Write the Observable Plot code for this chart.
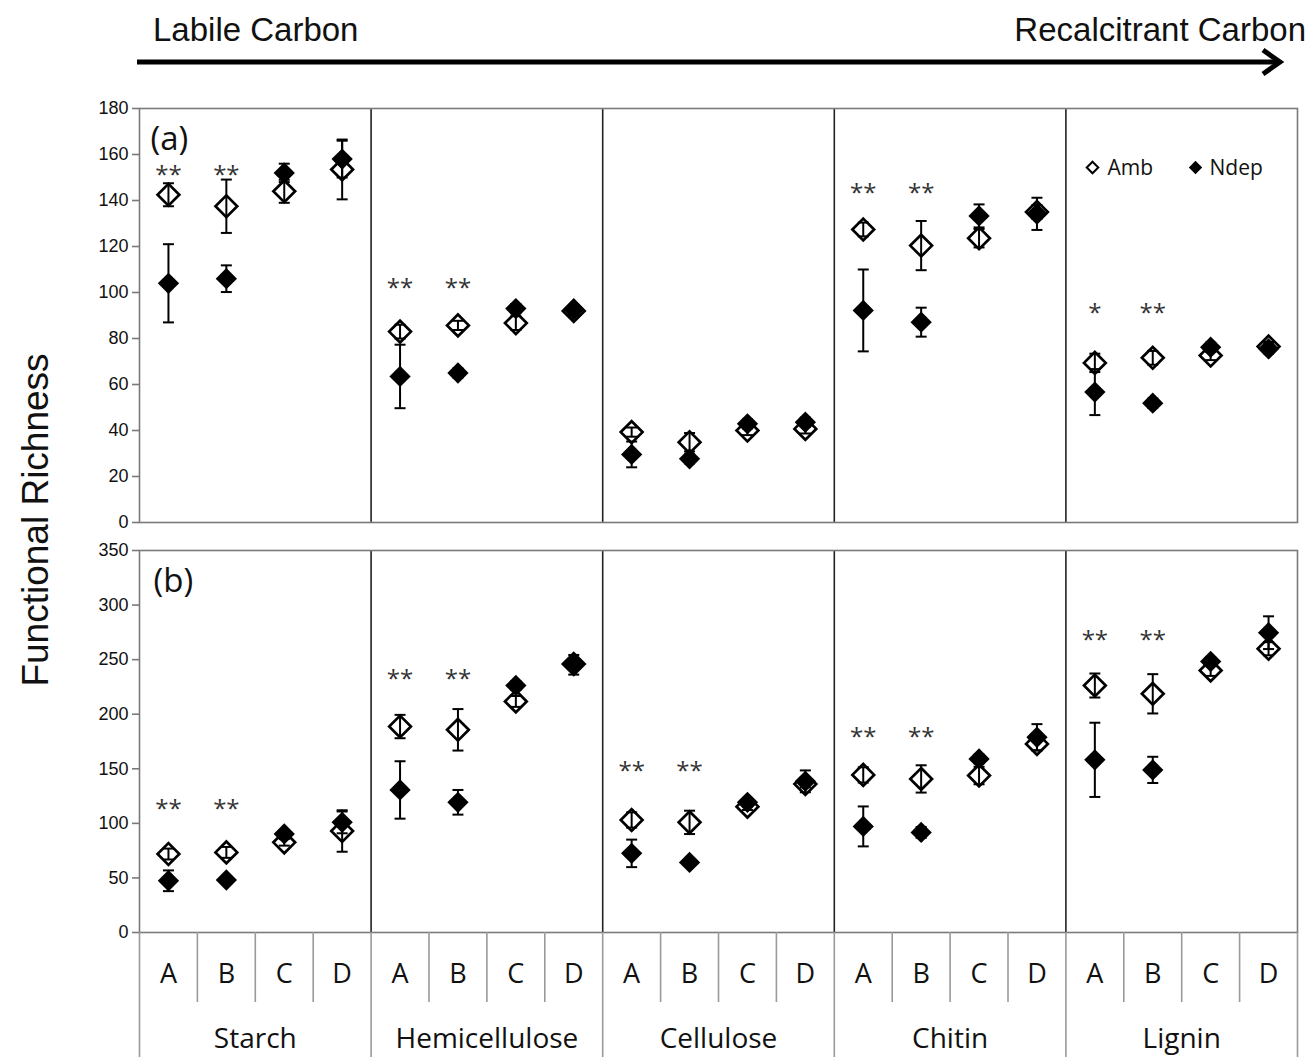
<!DOCTYPE html>
<html><head><meta charset="utf-8">
<script src="https://cdn.jsdelivr.net/npm/d3@7"></script>
<script src="https://cdn.jsdelivr.net/npm/@observablehq/plot@0.6"></script>
<style>
html,body{margin:0;padding:0;background:#fff;overflow:hidden;}
#wrap{position:relative;width:1313px;height:1057px;overflow:hidden;background:#fff;}
#wrap svg{position:absolute;left:0;}
</style></head><body>
<div id="wrap"></div>
<script>
// ---- categories ----
const groups = ["Starch", "Hemicellulose", "Cellulose", "Chitin", "Lignin"];
const levels = ["A", "B", "C", "D"];
const yTicksA = [0, 20, 40, 60, 80, 100, 120, 140, 160, 180];
const yTicksB = [0, 50, 100, 150, 200, 250, 300, 350];

// ---- panel (a) ----
const ambA      = [142.5, 137.5, 144, 153.5,  83, 85.7, 86.7, 92,   39.3, 34.9, 40, 40.7,  127.4, 120.4, 123.6, 135,  69.4, 71.6, 72.6, 76.5];
const ambErrA   = [5, 11.6, 5, 13,            3, 2, 3, 2,           2, 4, 2, 2,            3, 10.7, 4, 3,            4, 3, 2, 2];
const ndepA     = [104, 106, 152, 158,        63.5, 65, 93, 92.6,   29.6, 27.7, 42.9, 43.6, 92.2, 87.1, 133.3, 134.2, 56.7, 51.9, 76.2, 75.5];
const ndepErrA  = [17, 5.8, 4, 8,             13.8, 2, 2, 2,        5.6, 2, 2, 2,          17.8, 6.3, 5, 7,          10, 2, 2, 2];
const sigA      = ["**", "**", "", "",  "**", "**", "", "",  "", "", "", "",  "**", "**", "", "",  "*", "**", "", ""];
const sigYA     = [154, 105, 0, 146, 94];

// ---- panel (b) ----
const ambB      = [71.9, 73.4, 82.6, 93,      188.7, 185.7, 211.7, 246,  103.1, 100.9, 115.3, 136,  144.4, 140.7, 143.8, 172.8,  226.3, 218.7, 240.1, 260];
const ambErrB   = [5, 5, 3, 19,               10.7, 19, 5, 5,            7, 10.7, 3, 3,             7, 12.5, 8, 6,              11, 18, 5, 6];
const ndepB     = [47.4, 48.1, 90.3, 100.9,   130.6, 119.3, 226.3, 245.3, 72.5, 64.2, 119.3, 138.5, 97.2, 91.7, 159, 178.9,  158.2, 149, 248.3, 274.7];
const ndepErrB  = [9.5, 3, 3, 10,             26.3, 11.3, 4, 9,          12.6, 3, 4, 10,            18.3, 5, 4, 12,             34, 12, 4, 15];
const sigB      = ["**", "**", "", "",  "**", "**", "", "",  "**", "**", "", "",  "**", "**", "", "",  "**", "**", "", ""];
const sigYB     = [119.3, 238.5, 154.5, 185.7, 273.8];

function buildRows(amb, ambErr, ndep, ndepErr, sig, sigY) {
  const out = [];
  groups.forEach((g, gi) => levels.forEach((l, li) => {
    const i = gi * levels.length + li;
    out.push({i, x: i + 0.5, group: g, level: l, amb: amb[i], ambErr: ambErr[i],
      ndep: ndep[i], ndepErr: ndepErr[i], sig: sig[i], sigY: sigY[gi]});
  }));
  return out;
}
const rowsA = buildRows(ambA, ambErrA, ndepA, ndepErrA, sigA, sigYA);
const rowsB = buildRows(ambB, ambErrB, ndepB, ndepErrB, sigB, sigYB);

const nCat = groups.length * levels.length;
const groupBounds = d3.range(0, nCat + 1, levels.length);
const innerBounds = groupBounds.slice(1, -1);
const catBounds = d3.range(1, nCat).filter(v => v % levels.length !== 0);

const cap = {draw(ctx, size) { const w = Math.sqrt(size / Math.PI); ctx.moveTo(-w, 0); ctx.lineTo(w, 0); }};
const CAT_FONT = "Open Sans";

function dataMarks(rows) {
  return [
    Plot.ruleX(rows, {x: "x", y1: d => d.amb - d.ambErr, y2: d => d.amb + d.ambErr, stroke: "black", strokeWidth: 2}),
    Plot.dot(rows, {x: "x", y: d => d.amb + d.ambErr, symbol: cap, r: 5.5, stroke: "black", strokeWidth: 2, fill: "none"}),
    Plot.dot(rows, {x: "x", y: d => d.amb - d.ambErr, symbol: cap, r: 5.5, stroke: "black", strokeWidth: 2, fill: "none"}),
    Plot.ruleX(rows, {x: "x", y1: d => d.ndep - d.ndepErr, y2: d => d.ndep + d.ndepErr, stroke: "black", strokeWidth: 2}),
    Plot.dot(rows, {x: "x", y: d => d.ndep + d.ndepErr, symbol: cap, r: 5.5, stroke: "black", strokeWidth: 2, fill: "none"}),
    Plot.dot(rows, {x: "x", y: d => d.ndep - d.ndepErr, symbol: cap, r: 5.5, stroke: "black", strokeWidth: 2, fill: "none"}),
    Plot.dot(rows, {x: "x", y: "amb", symbol: "diamond2", r: 9.8, stroke: "black", strokeWidth: 2.7, fill: "none"}),
    Plot.dot(rows, {x: "x", y: "ndep", symbol: "diamond2", r: 9.6, fill: "black", stroke: "none"}),
    Plot.text(rows.filter(d => d.sig), {x: "x", y: "sigY", text: "sig", fontSize: 24, fontFamily: CAT_FONT, fill: "#333", dy: 7})
  ];
}

function baseMarks(yTicks) {
  return [
    Plot.ruleX(innerBounds, {stroke: "#222", strokeWidth: 1.6}),
    Plot.frame({stroke: "#7a7a7a", strokeWidth: 1.6}),
    Plot.axisY(yTicks, {tickSize: 7, tickPadding: 4, fontSize: 18, stroke: "#7a7a7a", strokeWidth: 1.6, fill: "#111", label: null})
  ];
}

const wrap = document.getElementById("wrap");

// Panel (a)
const plotA = Plot.plot({
  width: 1313, height: 446,
  marginTop: 18, marginBottom: 14, marginLeft: 139, marginRight: 16,
  style: {fontFamily: "Liberation Sans", fontSize: "18px", background: "transparent"},
  x: {domain: [0, nCat], axis: null},
  y: {domain: [0, 180]},
  marks: [
    ...baseMarks(yTicksA),
    ...dataMarks(rowsA),
    Plot.text(["(a)"], {frameAnchor: "top-left", text: d => d, dx: 11, dy: 18, fontSize: 33, fontFamily: CAT_FONT, textAnchor: "start", fill: "#111"}),
    Plot.dot(["Amb"], {frameAnchor: "top-right", dx: -205, dy: 59, symbol: "diamond2", r: 5.2, stroke: "black", strokeWidth: 2, fill: "none"}),
    Plot.text(["Amb"], {frameAnchor: "top-right", dx: -190, dy: 52, text: d => d, textAnchor: "start", fontSize: 21, fontFamily: CAT_FONT, fill: "#111"}),
    Plot.dot(["Ndep"], {frameAnchor: "top-right", dx: -102, dy: 59, symbol: "diamond2", r: 6, fill: "black"}),
    Plot.text(["Ndep"], {frameAnchor: "top-right", dx: -88, dy: 52, text: d => d, textAnchor: "start", fontSize: 21, fontFamily: CAT_FONT, fill: "#111"})
  ]
});
plotA.style.top = "90px";
wrap.appendChild(plotA);

// Panel (b)
const plotB = Plot.plot({
  width: 1313, height: 527,
  marginTop: 20, marginBottom: 125, marginLeft: 139, marginRight: 16,
  style: {fontFamily: "Liberation Sans", fontSize: "18px", background: "transparent"},
  x: {domain: [0, nCat], axis: null},
  y: {domain: [0, 350]},
  marks: [
    ...baseMarks(yTicksB),
    ...dataMarks(rowsB),
    Plot.text(["(b)"], {frameAnchor: "top-left", text: d => d, dx: 14, dy: 18, fontSize: 33, fontFamily: CAT_FONT, textAnchor: "start", fill: "#111"}),
    Plot.axisX(catBounds, {tickSize: 70, tickFormat: () => "", label: null, stroke: "#9a9a9a", strokeWidth: 1.6}),
    Plot.axisX(groupBounds, {tickSize: 126, tickFormat: () => "", label: null, stroke: "#9a9a9a", strokeWidth: 1.6}),
    Plot.text(rowsB, {x: "x", text: "level", frameAnchor: "bottom", dy: 50, fontSize: 27, fontFamily: CAT_FONT, fill: "#111"}),
    Plot.text(groups, {x: (d, i) => i * levels.length + levels.length / 2, text: d => d, frameAnchor: "bottom", dy: 115, fontSize: 28, fontFamily: CAT_FONT, fill: "#111"})
  ]
});
plotB.style.top = "530px";
wrap.appendChild(plotB);

// Header and y-axis title
const ns = "http://www.w3.org/2000/svg";
const over = document.createElementNS(ns, "svg");
over.setAttribute("width", 1313); over.setAttribute("height", 1057);
over.style.top = "0px"; over.style.pointerEvents = "none";
over.innerHTML = `
  <text x="153" y="41" font-family="Liberation Sans" font-size="33" fill="#111">Labile Carbon</text>
  <text x="1306" y="41" text-anchor="end" font-family="Liberation Sans" font-size="33" fill="#111">Recalcitrant Carbon</text>
  <line x1="137" y1="62" x2="1276" y2="62" stroke="black" stroke-width="5"/>
  <polyline points="1263,50 1280,62 1263,74" fill="none" stroke="black" stroke-width="5" stroke-linejoin="miter"/>
  <text transform="translate(38,520) rotate(-90)" text-anchor="middle" dominant-baseline="middle" font-family="Liberation Sans" font-size="37" fill="#111">Functional Richness</text>`;
wrap.appendChild(over);
</script>
</body></html>
